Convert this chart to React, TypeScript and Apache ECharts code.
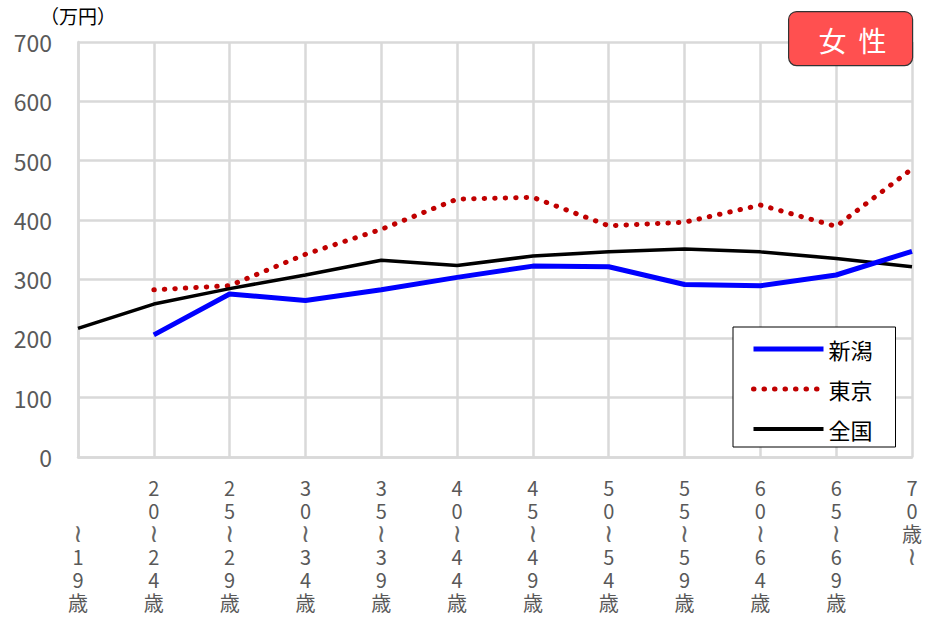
import React, { useEffect, useRef } from "react";
import * as echarts from "echarts";

const categories = ["〜19歳", "20〜24歳", "25〜29歳", "30〜34歳", "35〜39歳", "40〜44歳", "45〜49歳", "50〜54歳", "55〜59歳", "60〜64歳", "65〜69歳", "70歳〜"];
const niigata = [null, 206, 275, 264, 282, 303, 322, 321, 291, 289, 307, 347];
const tokyo = [null, 282, 289, 342, 384, 435, 438, 390, 396, 425, 389, 486];
const zenkoku = [217, 258, 284, 307, 332, 323, 339, 346, 351, 346, 335, 321];
const yTicks = [0, 100, 200, 300, 400, 500, 600, 700];

const FONT = "'Noto Sans CJK JP', 'Noto Sans', sans-serif";

function verticalLabel(s: string): string {
  const chars = Array.from(s).map((c) => (c === "〜" ? "{w|≀}" : c));
  const pad = s.startsWith("〜") ? ["", ""] : [];
  return [...pad, ...chars].join("\n");
}

export default function App() {
  const ref = useRef<HTMLDivElement>(null);
  useEffect(() => {
    if (!ref.current) return;
    const chart = echarts.init(ref.current, undefined, { renderer: "svg" });
    chart.setOption({
      animation: false,
      backgroundColor: "#fff",
      textStyle: { fontFamily: FONT },
      grid: { left: 78, right: 13, top: 42, bottom: 167, containLabel: false },
      xAxis: {
        type: "category",
        data: categories,
        boundaryGap: false,
        axisLine: { show: true, lineStyle: { color: "#d9d9d9", width: 2.5 } },
        axisTick: { show: false },
        splitLine: { show: true, interval: 0, lineStyle: { color: "#d9d9d9", width: 2.5 } },
        axisLabel: {
          interval: 0,
          margin: 19,
          color: "#595959",
          fontSize: 20,
          lineHeight: 23,
          fontFamily: FONT,
          verticalAlign: "top",
          formatter: (v: string) => verticalLabel(v),
          rich: {
            w: {
              fontFamily: "'DejaVu Sans'",
              fontSize: 25,
              lineHeight: 23,
              color: "#666",
            },
          },
        },
      },
      yAxis: {
        type: "value",
        min: yTicks[0],
        max: yTicks[yTicks.length - 1],
        interval: 100,
        axisLine: { show: true, lineStyle: { color: "#d9d9d9", width: 2.5 } },
        axisTick: { show: false },
        splitLine: { show: true, lineStyle: { color: "#d9d9d9", width: 2.5 } },
        axisLabel: { color: "#595959", fontSize: 23, margin: 26, fontFamily: FONT },
      },
      legend: {
        orient: "vertical",
        left: 733,
        top: 327,
        padding: [11, 23, 7, 18],
        itemWidth: 70,
        itemHeight: 14,
        itemGap: 18,
        textStyle: { fontSize: 22, color: "#000", fontFamily: FONT },
        borderColor: "#000",
        borderWidth: 1,
        borderRadius: 0,
        backgroundColor: "#fff",
        itemStyle: { opacity: 0 },
        data: [
          { name: "新潟", itemStyle: { opacity: 0 }, lineStyle: { width: 5, color: "#0000ff" } },
          { name: "東京", itemStyle: { opacity: 0 }, lineStyle: { width: 5, color: "#c00000", type: [0.5, 10], cap: "round" } },
          { name: "全国", itemStyle: { opacity: 0 }, lineStyle: { width: 4, color: "#000" } },
        ],
      },
      series: [
        {
          name: "新潟",
          type: "line",
          data: niigata,
          symbol: "none",
          connectNulls: false,
          lineStyle: { color: "#0000ff", width: 5 },
          itemStyle: { color: "#0000ff" },
          z: 3,
        },
        {
          name: "東京",
          type: "line",
          data: tokyo,
          symbol: "none",
          lineStyle: { color: "#c00000", width: 5, type: [0.5, 10], cap: "round" },
          itemStyle: { color: "#c00000" },
          z: 2,
        },
        {
          name: "全国",
          type: "line",
          data: zenkoku,
          symbol: "none",
          lineStyle: { color: "#000", width: 3.5 },
          itemStyle: { color: "#000" },
          z: 2,
        },
      ],
      graphic: [
        {
          type: "text",
          left: 40,
          top: 6,
          z: 100,
          style: { text: "（万円）", fill: "#000", font: `19px ${FONT}` },
        },
        {
          type: "group",
          left: 788,
          top: 11,
          z: 100,
          children: [
            {
              type: "rect",
              z: 100,
              shape: { x: 0, y: 0, width: 124, height: 54, r: 8 },
              style: { fill: "#ff5050", stroke: "#333", lineWidth: 1.2 },
            },
            {
              type: "text",
              z: 101,
              x: 44,
              y: 28,
              style: { text: "女", fill: "#fff", font: `28px ${FONT}`, align: "center", verticalAlign: "middle" },
            },
            {
              type: "text",
              z: 101,
              x: 84,
              y: 28,
              style: { text: "性", fill: "#fff", font: `28px ${FONT}`, align: "center", verticalAlign: "middle" },
            },
          ],
        },
      ],
    });
    return () => chart.dispose();
  }, []);
  return (
    <div
      ref={ref}
      style={{ position: "absolute", left: 0, top: 0, width: 925, height: 624 }}
    />
  );
}
